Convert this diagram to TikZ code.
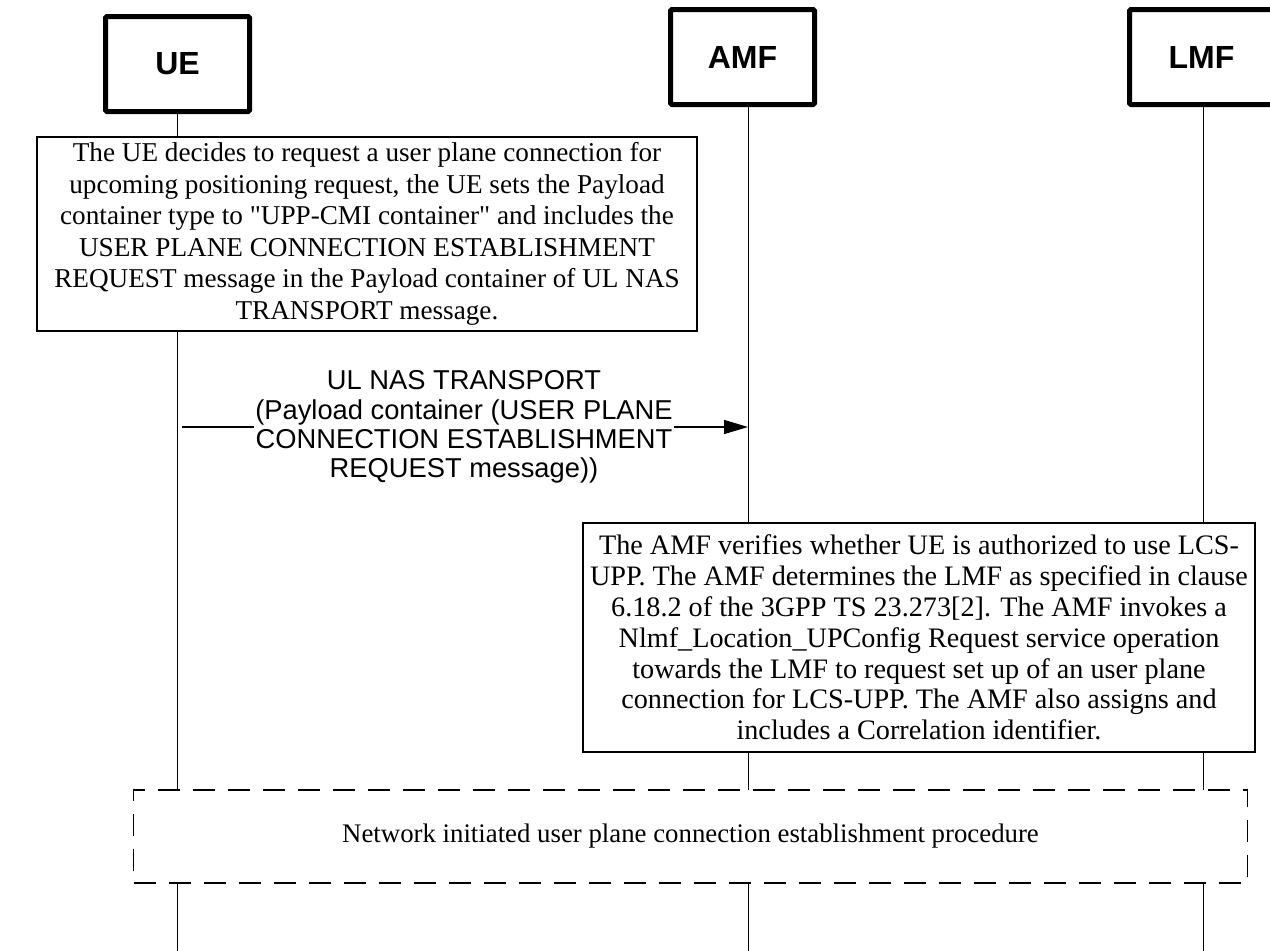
\documentclass[tikz,border=0pt]{standalone}
\usepackage{fontspec}
\setmainfont{Liberation Serif}[Ligatures=TeXOff]
\newfontfamily\arialfont{Liberation Sans}
\usetikzlibrary{arrows.meta}
\begin{document}
\begin{tikzpicture}[x=1pt,y=-1pt,
  entity/.style={draw, line width=5pt, rounded corners=1.5pt, fill=white,
    minimum width=144pt, minimum height=95pt, inner sep=0pt,
    font=\arialfont\bfseries\fontsize{32}{36}\selectfont},
  note/.style={draw, line width=1.2pt, fill=white, align=center, inner sep=0pt},
  life/.style={line width=1pt},
  msg/.style={line width=1.3pt, -{Triangle[length=24pt,width=14pt]}},
  proc/.style={draw, line width=1.8pt, dash pattern=on 22pt off 13pt, fill=white,
    inner sep=0pt, minimum width=1114pt, minimum height=93pt},
]
\useasboundingbox (0,0) rectangle (1270,951);
\fill[white] (0,0) rectangle (1270,951);

% lifeline ends
\coordinate (ueEnd) at (177,951);
\coordinate (amfEnd) at (748,951);
\coordinate (lmfEnd) at (1203,951);
\coordinate (ueTop) at (177,64);
\coordinate (amfTop) at (748,57);
\coordinate (lmfTop) at (1203,57);

% lifelines (drawn first, covered by boxes)
\draw[life] (ueTop) -- (ueEnd);
\draw[life] (amfTop) -- (amfEnd);
\draw[life] (lmfTop) -- (lmfEnd);

% entities
\node[entity] (ue) at (177.5,64) {UE};
\node[entity] (amf) at (742.5,57) {AMF};
\node[entity] (lmf) at (1201.5,57) {LMF};

% UE note
\node[note, minimum width=660pt, minimum height=194pt,
  font=\fontsize{27.2}{31.5}\selectfont] (uenote) at (367,234)
 {The UE decides to request a user plane connection for\\
  upcoming positioning request, the UE sets the Payload\\
  container type to "UPP-CMI container" and includes the\\
  USER PLANE CONNECTION ESTABLISHMENT\\
  REQUEST message in the Payload container of UL NAS\\
  TRANSPORT message.};

% message
\coordinate (msgStart) at (182,427);
\coordinate (msgEnd) at (748,427);
\draw[msg] (msgStart) -- (msgEnd);
\node[fill=white, align=center, inner sep=1pt,
  font=\arialfont\fontsize{27.3}{29.3}\selectfont] (msglabel) at (464,427)
 {UL NAS TRANSPORT\\
  (Payload container (USER PLANE\\
  CONNECTION ESTABLISHMENT\\
  REQUEST message))};

% AMF note
\node[note, minimum width=672pt, minimum height=229pt,
  font=\fontsize{28.2}{30.8}\selectfont] (amfnote) at (919,637.5)
 {The AMF verifies whether UE is authorized to use LCS-\\
  UPP. The AMF determines the LMF as specified in clause\\
  6.18.2 of the 3GPP TS 23.273[2]. The AMF invokes a\\
  Nlmf\_Location\_UPConfig Request service operation\\
  towards the LMF to request set up of an user plane\\
  connection for LCS-UPP. The AMF also assigns and\\
  includes a Correlation identifier.};

% procedure box
\node[proc, font=\fontsize{26.8}{30}\selectfont] (proc) at (690.5,836.5)
 {Network initiated user plane connection establishment procedure};
\end{tikzpicture}
\end{document}
